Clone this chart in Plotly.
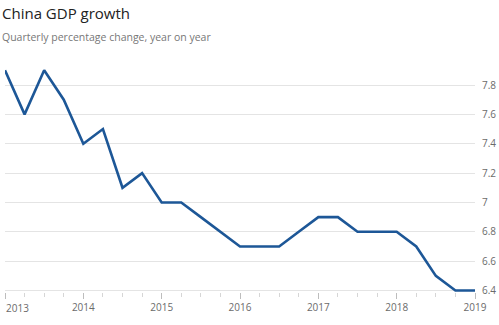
import plotly.graph_objects as go

# ---- data ----
quarters = [2013 + 0.25 * i for i in range(25)]
gdp_growth = [7.9, 7.6, 7.9, 7.7, 7.4, 7.5, 7.1, 7.2, 7.0, 7.0, 6.9, 6.8, 6.7,
              6.7, 6.7, 6.8, 6.9, 6.9, 6.8, 6.8, 6.8, 6.7, 6.5, 6.4, 6.4]
year_ticks = [2013, 2014, 2015, 2016, 2017, 2018, 2019]
year_labels = ["2013", "2014", "2015", "2016", "2017", "2018", "2019"]
y_ticks = [6.4, 6.6, 6.8, 7.0, 7.2, 7.4, 7.6, 7.8]
y_labels = ["6.4", "6.6", "6.8", "7", "7.2", "7.4", "7.6", "7.8"]
title = "China GDP growth"
subtitle = "Quarterly percentage change, year on year"

W, H = 499, 325
ML, MR, MT, MB = 5, 24, 63, 33
PW = W - ML - MR
PH = H - MT - MB
FONT = "Open Sans"
GRAY = "#6b6b6b"

fig = go.Figure()
fig.add_trace(go.Scatter(
    x=quarters, y=gdp_growth, mode="lines",
    line=dict(color="#1d5797", width=2.6),
    hoverinfo="skip", showlegend=False,
))

fig.update_layout(
    width=W, height=H,
    margin=dict(l=ML, r=MR, t=MT, b=MB, pad=0),
    paper_bgcolor="white", plot_bgcolor="white",
    font=dict(family=FONT, color=GRAY, size=10),
    xaxis=dict(
        range=[2013, 2019], tickvals=year_ticks,
        ticktext=[""] + year_labels[1:],
        showgrid=False, zeroline=False, showline=False,
        ticks="outside", ticklen=6, tickwidth=1, tickcolor="#bdbdbd",
        minor=dict(dtick=0.25, tick0=2013, ticks="outside", ticklen=4,
                   tickcolor="#d6d6d6", showgrid=False),
        tickfont=dict(family=FONT, size=10, color=GRAY),
        automargin=False, fixedrange=True,
    ),
    yaxis=dict(
        range=[6.39, 7.95], side="right", tickvals=y_ticks, ticktext=y_labels,
        showgrid=True, gridcolor="#e4e4e4", gridwidth=1,
        zeroline=False, showline=False, ticks="",
        ticklabelstandoff=6,
        tickfont=dict(family=FONT, size=10, color=GRAY),
        automargin=False, fixedrange=True,
    ),
)

# first year label sits right of its tick (as in the source graphic)
fig.add_annotation(
    x=year_ticks[0], y=0, xref="x", yref="paper", yanchor="top", xanchor="left",
    yshift=-7, xshift=-1, text=year_labels[0], showarrow=False,
    font=dict(family=FONT, size=10, color=GRAY),
)

# title & subtitle (positioned in pixels relative to the page)
def px_x(p):
    return (p - ML) / PW

def px_y(p):
    return (H - MB - p) / PH

fig.add_annotation(
    x=px_x(0), y=px_y(25), xref="paper", yref="paper", xanchor="left",
    yanchor="bottom", text=title, showarrow=False,
    font=dict(family=FONT, size=15, color="#222222"),
)
fig.add_annotation(
    x=px_x(0), y=px_y(46), xref="paper", yref="paper", xanchor="left",
    yanchor="bottom", text=subtitle, showarrow=False,
    font=dict(family=FONT, size=10.5, color="#777777"),
)

fig.write_html("out.html", config={"displayModeBar": False})
